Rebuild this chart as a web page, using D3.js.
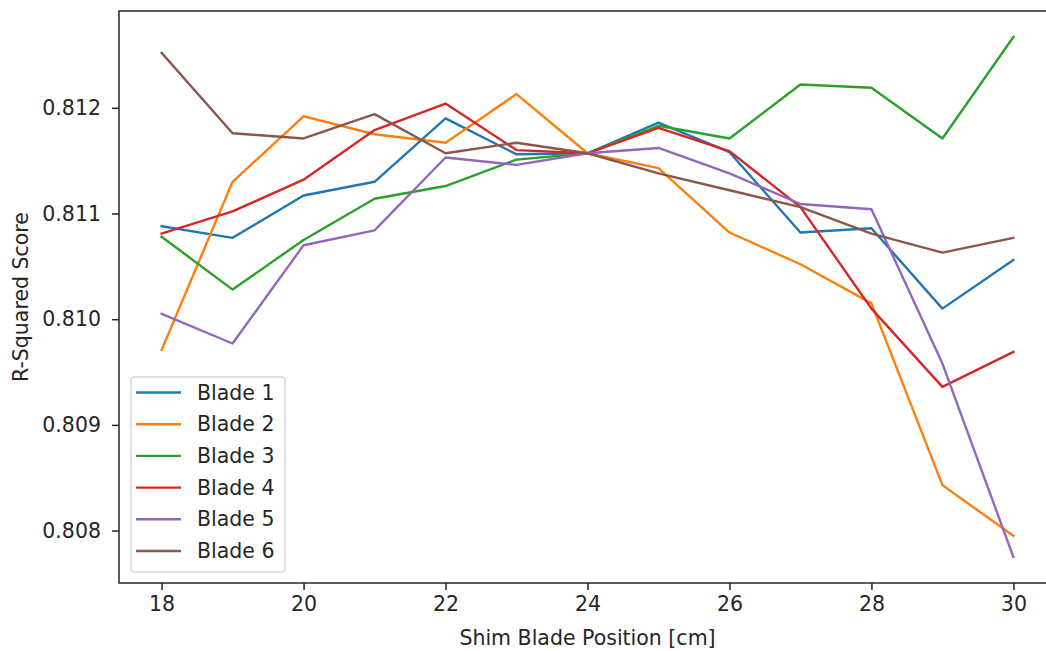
<!DOCTYPE html>
<html>
<head>
<meta charset="utf-8">
<script src="https://cdn.jsdelivr.net/npm/d3@7"></script>
<style>
  body { margin: 0; background: #fff; }
  text { font-family: "DejaVu Sans", sans-serif; fill: #262626; }
</style>
</head>
<body>
<div id="chart"></div>
<script>
// Shim blade positions (x) and the score of each blade
const positions = [18, 19, 20, 21, 22, 23, 24, 25, 26, 27, 28, 29, 30];
const blade1 = [0.81088, 0.81077, 0.81117, 0.81130, 0.81190, 0.81156, 0.81157, 0.81186, 0.81158, 0.81082, 0.81086, 0.81010, 0.81056];
const blade2 = [0.80971, 0.81130, 0.81192, 0.81175, 0.81167, 0.81213, 0.81157, 0.81143, 0.81082, 0.81052, 0.81015, 0.80843, 0.80795];
const blade3 = [0.81078, 0.81028, 0.81075, 0.81114, 0.81126, 0.81151, 0.81157, 0.81183, 0.81171, 0.81222, 0.81219, 0.81171, 0.81267];
const blade4 = [0.81081, 0.81102, 0.81132, 0.81179, 0.81204, 0.81160, 0.81157, 0.81181, 0.81159, 0.81106, 0.81010, 0.80936, 0.80969];
const blade5 = [0.81005, 0.80977, 0.81070, 0.81084, 0.81153, 0.81146, 0.81157, 0.81162, 0.81138, 0.81109, 0.81104, 0.80958, 0.80775];
const blade6 = [0.81252, 0.81176, 0.81171, 0.81194, 0.81157, 0.81167, 0.81157, 0.81138, 0.81122, 0.81106, 0.81081, 0.81063, 0.81077];

const seriesNames = ["Blade 1", "Blade 2", "Blade 3", "Blade 4", "Blade 5", "Blade 6"];
const seriesValues = [blade1, blade2, blade3, blade4, blade5, blade6];
const colors = ["#1f77b4", "#ff7f0e", "#2ca02c", "#d62728", "#9467bd", "#8c564b"];

const xTicks = [18, 20, 22, 24, 26, 28, 30];
const yTicks = [0.808, 0.809, 0.810, 0.811, 0.812];

const width = 1046, height = 651;
const fontSize = "20.5px";
// plot area (right spine falls outside the picture, as in the original)
const margin = { top: 11, right: -10, bottom: 68, left: 119 };
const innerW = width - margin.left - margin.right;
const innerH = height - margin.top - margin.bottom;

const svg = d3.select("#chart").append("svg")
    .attr("width", width)
    .attr("height", height);

const g = svg.append("g")
    .attr("transform", `translate(${margin.left},${margin.top})`);

// matplotlib-style 5% padding around the data
const allVals = seriesValues.flat();
const yMin = d3.min(allVals), yMax = d3.max(allVals);
const yPad = (yMax - yMin) * 0.05;
const xPad = (d3.max(positions) - d3.min(positions)) * 0.05;

const x = d3.scaleLinear()
    .domain([d3.min(positions) - xPad, d3.max(positions) + xPad])
    .range([0, innerW]);

const y = d3.scaleLinear()
    .domain([yMin - yPad, yMax + yPad])
    .range([innerH, 0]);

// Axes
const xAxis = g.append("g")
    .attr("transform", `translate(0,${innerH})`)
    .call(d3.axisBottom(x).tickValues(xTicks).tickSize(7).tickPadding(6).tickFormat(d3.format("d")));

const yAxis = g.append("g")
    .call(d3.axisLeft(y).tickValues(yTicks).tickSize(7).tickPadding(11).tickFormat(d3.format(".3f")));

[xAxis, yAxis].forEach(a => {
    a.select(".domain").remove();
    a.selectAll(".tick line").attr("stroke", "#262626").attr("stroke-width", 1.5);
    a.selectAll(".tick text").style("font-size", fontSize).style("font-family", "DejaVu Sans, sans-serif").attr("fill", "#262626");
});

// Spines
g.append("rect")
    .attr("x", 0).attr("y", 0)
    .attr("width", innerW).attr("height", innerH)
    .attr("fill", "none")
    .attr("stroke", "#262626")
    .attr("stroke-width", 1.5);

// Lines
const line = d3.line()
    .x((d, i) => x(positions[i]))
    .y(d => y(d));

seriesValues.forEach((vals, k) => {
    g.append("path")
        .datum(vals)
        .attr("fill", "none")
        .attr("stroke", colors[k])
        .attr("stroke-width", 2.4)
        .attr("stroke-linejoin", "round")
        .attr("stroke-linecap", "square")
        .attr("d", line);
});

// Axis labels
svg.append("text")
    .attr("x", margin.left + x(24))
    .attr("y", 645)
    .attr("text-anchor", "middle")
    .style("font-size", fontSize)
    .text("Shim Blade Position [cm]");

svg.append("text")
    .attr("transform", `translate(27.5,${margin.top + innerH / 2}) rotate(-90)`)
    .attr("text-anchor", "middle")
    .style("font-size", fontSize)
    .text("R-Squared Score");

// Legend
const legend = svg.append("g")
    .attr("transform", "translate(131,377)");

legend.append("rect")
    .attr("width", 154)
    .attr("height", 195)
    .attr("rx", 3)
    .attr("fill", "#fff")
    .attr("fill-opacity", 0.8)
    .attr("stroke", "#d6d6d6")
    .attr("stroke-width", 1.5);

seriesNames.forEach((name, k) => {
    const row = legend.append("g")
        .attr("transform", `translate(0,${15.5 + k * 31.7})`);
    row.append("line")
        .attr("x1", 5).attr("x2", 50)
        .attr("stroke", colors[k])
        .attr("stroke-width", 2.4);
    row.append("text")
        .attr("x", 66)
        .attr("dy", "0.35em")
        .style("font-size", fontSize)
        .text(name);
});
</script>
</body>
</html>
